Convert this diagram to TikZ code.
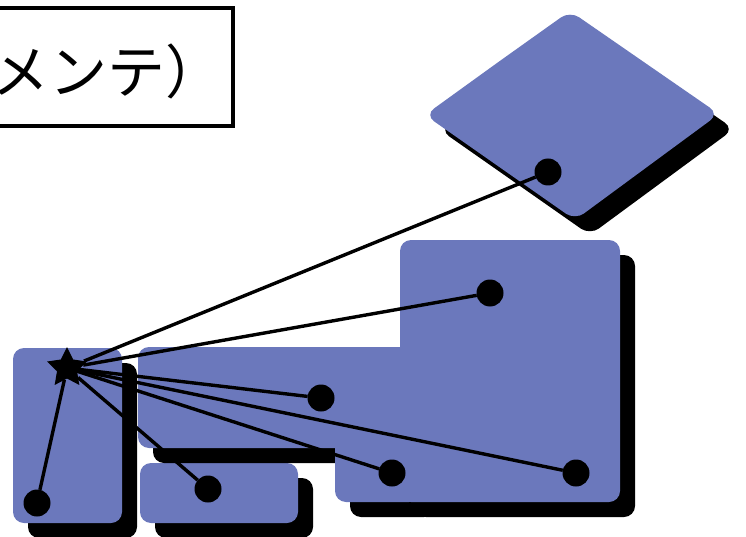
\documentclass[tikz,border=0pt]{standalone}
\usepackage{fontspec}
\newfontfamily\jpfont{Noto Sans CJK JP}
\usetikzlibrary{shapes.geometric,shadows}
\definecolor{areablue}{RGB}{107,120,188}
\begin{document}
\begin{tikzpicture}[x=1pt,y=-1pt,
    area/.style={fill=areablue,rounded corners=11pt,
      drop shadow={shadow xshift=15pt,shadow yshift=-15pt,fill=black,opacity=1}},
    dot/.style={circle,fill=black,minimum size=27pt,inner sep=0pt,outer sep=0pt},
    hub/.style={star,star points=5,star point ratio=2,fill=black,minimum size=42pt,inner sep=0pt,outer sep=0pt},
    link/.style={line width=3.4pt}]
  \useasboundingbox (0,0) rectangle (746,537);
  \clip (0,0) rectangle (746,537);

  % label box
  \draw[line width=4pt] (-30,8) rectangle (233,126);
  \node[anchor=base east,inner sep=0pt] (title) at (224,94) {\jpfont\fontsize{58}{60}\selectfont メンテ）};

  % areas
  \path[area] (13,348) rectangle (122,523);
  \path[area] (140,463) rectangle (298,523);
  \path[area] (400,240) rectangle (620,502)
              (138,347) rectangle (420,448)
              (335,430) rectangle (420,502);
  \path[area] (497,63) -- (570,11) -- (719,114) -- (575,220) -- (425,115) -- cycle;

  % points
  \node[hub] (hub) at (67,368) {};
  \node[dot] (p1) at (548,172) {};
  \node[dot] (p2) at (490,293) {};
  \node[dot] (p3) at (321,398) {};
  \node[dot] (p4) at (392,473) {};
  \node[dot] (p5) at (576,473) {};
  \node[dot] (p6) at (208,489) {};
  \node[dot] (p7) at (37,503) {};

  \foreach \i in {1,...,7}
    \draw[link] (hub) -- (p\i);
\end{tikzpicture}
\end{document}
